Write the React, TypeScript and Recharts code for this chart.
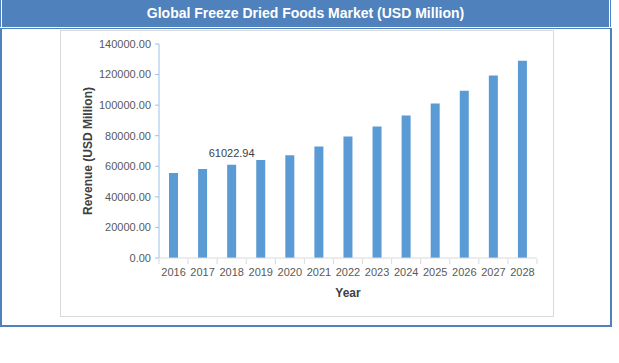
import React from "react";
import { BarChart, Bar, XAxis, YAxis, LabelList, Label } from "recharts";

const years = ["2016", "2017", "2018", "2019", "2020", "2021", "2022", "2023", "2024", "2025", "2026", "2027", "2028"];
const revenue = [55600, 58200, 61022.94, 64100, 67300, 73000, 79500, 86000, 93200, 101000, 109400, 119400, 129000];
const notes = ["", "", "61022.94", "", "", "", "", "", "", "", "", "", ""];
const yTicks = [0, 20000, 40000, 60000, 80000, 100000, 120000, 140000];

const data = years.map((year, i) => ({ year, revenue: revenue[i], note: notes[i] || undefined }));

const W = 619;
const H = 363;
const margin = { top: 44, right: 82, bottom: 60, left: 69 };
const Y_AXIS_W = 90;
const BAND = (W - margin.left - Y_AXIS_W - margin.right) / years.length;
const FONT = "'Liberation Sans', Arial, sans-serif";

const YearTick = (props: any) => {
  const { x, y, payload, index } = props;
  const half = BAND / 2;
  return (
    <g>
      <line x1={x - half} x2={x - half} y1={y - 9} y2={y - 4} stroke="#d9d9d9" />
      {index === years.length - 1 && (
        <line x1={x + half} x2={x + half} y1={y - 9} y2={y - 4} stroke="#d9d9d9" />
      )}
      <text x={x} y={y} dy="0.71em" textAnchor="middle" fill="#595959" fontSize={11} fontFamily={FONT}>
        {payload.value}
      </text>
    </g>
  );
};

export default function App() {
  return (
    <div style={{ position: "absolute", left: 0, top: 0, width: W, height: H, background: "#fff", fontFamily: FONT }}>
      {/* title band */}
      <div
        style={{
          position: "absolute",
          left: 0,
          top: 0,
          width: 611,
          height: 27,
          boxSizing: "border-box",
          background: "#4F81BD",
          borderLeft: "1px solid #4F81BD",
          borderRight: "1px solid #4F81BD",
        }}
      >
        <div
          style={{
            height: "100%",
            boxSizing: "border-box",
            borderLeft: "1px solid #fff",
            borderRight: "1px solid #fff",
            color: "#fff",
            fontWeight: "bold",
            fontSize: 14,
            textAlign: "center",
            lineHeight: "27px",
          }}
        >
          Global Freeze Dried Foods Market (USD Million)
        </div>
      </div>

      {/* outer box */}
      <div
        style={{
          position: "absolute",
          left: 0,
          top: 28,
          width: 612,
          height: 299,
          boxSizing: "border-box",
          borderTop: "1px solid #4F81BD",
          borderLeft: "2px solid #4F81BD",
          borderRight: "2px solid #4F81BD",
          borderBottom: "2px solid #4F81BD",
        }}
      />

      {/* chart frame */}
      <div
        style={{
          position: "absolute",
          left: 60,
          top: 30,
          width: 494,
          height: 287,
          boxSizing: "border-box",
          border: "1px solid #d9d9d9",
        }}
      />

      <div style={{ position: "absolute", left: 0, top: 0 }}>
        <BarChart width={W} height={H} data={data} margin={margin} barSize={9}>
          <XAxis
            dataKey="year"
            tick={<YearTick />}
            tickLine={false}
            tickSize={5}
            tickMargin={5}
            axisLine={{ stroke: "#d9d9d9" }}
            height={45}
            interval={0}
          >
            <Label value="Year" position="center" dy={12} fill="#404040" fontSize={12} fontWeight="bold" fontFamily={FONT} />
          </XAxis>
          <YAxis
            domain={[0, 140000]}
            ticks={yTicks}
            width={Y_AXIS_W}
            tickFormatter={(v: number) => v.toFixed(2)}
            tick={{ fill: "#595959", fontSize: 11, fontFamily: FONT }}
            tickSize={4}
            tickMargin={4}
            tickLine={{ stroke: "#9DC3E6" }}
            axisLine={{ stroke: "#9DC3E6" }}
          >
            <Label
              value="Revenue  (USD Million)"
              position="center"
              angle={-90}
              dx={-26}
              fill="#404040"
              fontSize={12}
              fontWeight="bold"
              fontFamily={FONT}
            />
          </YAxis>
          <Bar dataKey="revenue" fill="#5B9BD5" isAnimationActive={false}>
            <LabelList dataKey="note" position="top" offset={8} fill="#404040" fontSize={11} fontFamily={FONT} />
          </Bar>
        </BarChart>
      </div>
    </div>
  );
}
